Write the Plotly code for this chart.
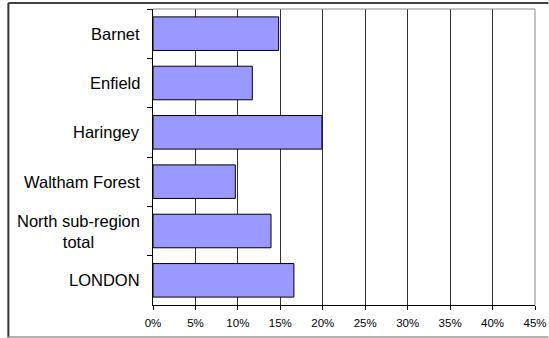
import plotly.graph_objects as go

categories = ["Barnet", "Enfield", "Haringey", "Waltham Forest", "North sub-region<br>total", "LONDON"]
values = [14.8, 11.7, 19.9, 9.7, 13.9, 16.6]
tick_vals = [0, 5, 10, 15, 20, 25, 30, 35, 40, 45]
tick_text = ["0%", "5%", "10%", "15%", "20%", "25%", "30%", "35%", "40%", "45%"]

FONT = "Liberation Sans, Arial, sans-serif"

L, R, T, B = 152.5, 13.5, 9, 33
W, H = 549, 338

fig = go.Figure()
fig.add_trace(go.Bar(
    y=categories, x=values, orientation="h",
    marker=dict(color="#9999FF", line=dict(color="#000000", width=1)),
    width=0.68,
    hoverinfo="skip",
))

for c in categories:
    fig.add_annotation(
        x=-0.029, xref="paper", y=c, yref="y",
        text=c, showarrow=False, xanchor="right", align="center",
        font=dict(family=FONT, size=16.5, color="#000000"),
    )

fig.update_layout(
    template="none",
    width=W, height=H,
    margin=dict(l=L, r=R, t=T, b=B, pad=0, autoexpand=False),
    paper_bgcolor="white", plot_bgcolor="white",
    showlegend=False,
    font=dict(family=FONT, size=11.5, color="#000000"),
    xaxis=dict(
        range=[0, 45], tickvals=tick_vals, ticktext=tick_text,
        showgrid=True, gridcolor="#333333", gridwidth=1,
        showline=True, linecolor="#000000", linewidth=1,
        ticks="outside", ticklen=4, tickcolor="#000000", tickwidth=1,
        ticklabelstandoff=3,
        zeroline=False, fixedrange=True, automargin=False,
        tickfont=dict(family=FONT, size=11.5),
    ),
    yaxis=dict(
        categoryorder="array", categoryarray=categories,
        autorange="reversed", showticklabels=False,
        showline=True, linecolor="#000000", linewidth=1,
        ticks="outside", ticklen=5, tickcolor="#000000", tickwidth=1, tickson="boundaries",
        showgrid=False, zeroline=False, fixedrange=True, automargin=False,
    ),
    bargap=0.32,
)

# plot area frame (top and right grey)
fig.add_shape(type="line", xref="paper", yref="paper", x0=0, x1=1, y0=1, y1=1,
              line=dict(color="#888888", width=1))
fig.add_shape(type="line", xref="paper", yref="paper", x0=1, x1=1, y0=0, y1=1,
              line=dict(color="#888888", width=1))

# outer chart frame
pw = W - L - R
ph = H - T - B
def px(x):
    return (x - L) / pw
def py(y):
    return (H - B - y) / ph
fig.add_shape(type="line", xref="paper", yref="paper", x0=px(7.5), x1=px(549), y0=py(3), y1=py(3),
              line=dict(color="#000000", width=1.5))
fig.add_shape(type="line", xref="paper", yref="paper", x0=px(7.5), x1=px(7.5), y0=py(3), y1=py(337.5),
              line=dict(color="#333333", width=2))
fig.add_shape(type="line", xref="paper", yref="paper", x0=px(7.5), x1=px(549), y0=py(337), y1=py(337),
              line=dict(color="#999999", width=1.5))

fig.write_html("out.html")
